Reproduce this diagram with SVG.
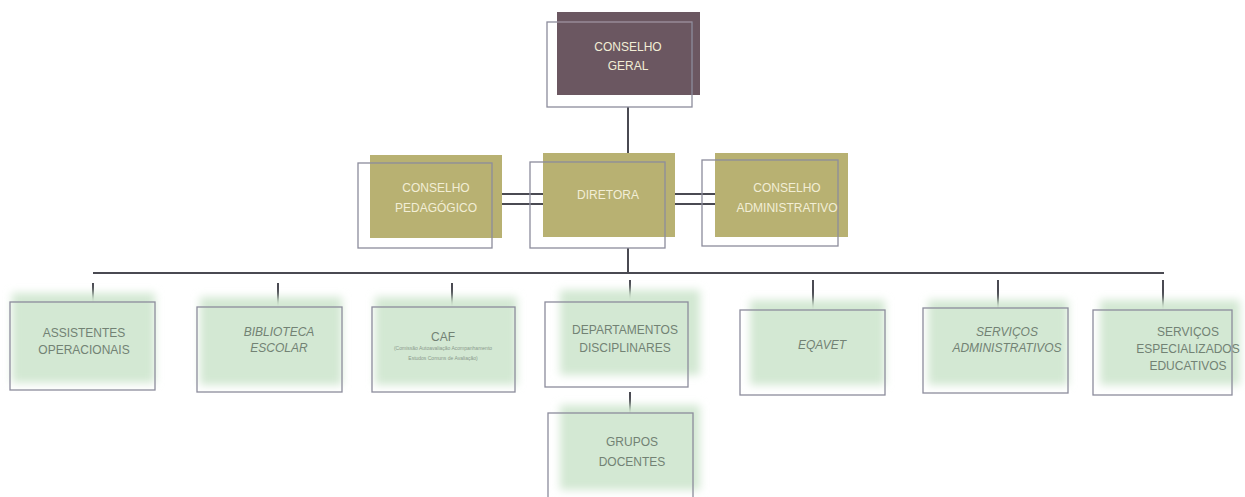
<svg xmlns="http://www.w3.org/2000/svg" width="1245" height="497" viewBox="0 0 1245 497">
<style>
.frame{fill:none;stroke:#8c8c9c;stroke-width:1.3}
.olive{fill:#b8b172}
.glow{fill:#d3e8d3;filter:url(#blur)}
.ln{stroke:#4a4a52;stroke-width:2;fill:none}
.tw{font-family:"Liberation Sans",Arial,sans-serif;font-size:12px;fill:#f2eed6;text-anchor:middle}
.tg{font-family:"Liberation Sans",Arial,sans-serif;font-size:12px;fill:#728274;text-anchor:middle}
.it{font-style:italic}
.small{font-family:"Liberation Sans",Arial,sans-serif;font-size:5px;fill:#8a9a8c;text-anchor:middle}
</style>
<defs>
<filter id="blur" x="-20%" y="-20%" width="140%" height="140%"><feGaussianBlur stdDeviation="4"/></filter>
</defs>
<rect width="1245" height="497" fill="#ffffff"/>
<g id="connectors">
<line class="ln" x1="628" y1="107" x2="628" y2="153"/>
<line class="ln" x1="502" y1="194" x2="543" y2="194"/>
<line class="ln" x1="502" y1="204" x2="543" y2="204"/>
<line class="ln" x1="675" y1="194" x2="715" y2="194"/>
<line class="ln" x1="675" y1="204" x2="715" y2="204"/>
<line class="ln" x1="628" y1="248" x2="628" y2="273"/>
<line class="ln" x1="93" y1="273" x2="1164" y2="273"/>
<line class="ln" x1="93" y1="283" x2="93" y2="302"/>
<line class="ln" x1="278" y1="283" x2="278" y2="307"/>
<line class="ln" x1="452" y1="283" x2="452" y2="307"/>
<line class="ln" x1="630" y1="280" x2="630" y2="302"/>
<line class="ln" x1="813" y1="280" x2="813" y2="310"/>
<line class="ln" x1="998" y1="280" x2="998" y2="308"/>
<line class="ln" x1="1163" y1="280" x2="1163" y2="310"/>
<line class="ln" x1="630" y1="392" x2="630" y2="413"/>
</g>
<g id="conselho-geral">
<rect x="557" y="12" width="143" height="83" fill="#6b5761"/>
<line x1="557" y1="22" x2="692" y2="22" stroke="#b07070" stroke-width="1"/>
<rect class="frame" x="547" y="22" width="145" height="85"/>
<text class="tw" x="628" y="51">CONSELHO</text>
<text class="tw" x="628" y="70">GERAL</text>
</g>
<g id="conselho-pedagogico">
<rect class="olive" x="370" y="155" width="132" height="83"/>
<rect class="frame" x="358" y="163" width="134" height="85"/>
<text class="tw" x="436" y="192">CONSELHO</text>
<text class="tw" x="436" y="212">PEDAGÓGICO</text>
</g>
<g id="diretora">
<rect class="olive" x="543" y="153" width="132" height="84"/>
<rect class="frame" x="530" y="162" width="135" height="86"/>
<text class="tw" x="608" y="199">DIRETORA</text>
</g>
<g id="conselho-administrativo">
<rect class="olive" x="715" y="153" width="133" height="84"/>
<rect class="frame" x="702" y="160" width="136" height="86"/>
<text class="tw" x="787" y="192">CONSELHO</text>
<text class="tw" x="787" y="212">ADMINISTRATIVO</text>
</g>
<g id="assistentes">
<rect class="glow" x="12" y="293" width="143" height="90"/>
<rect class="frame" x="10" y="302" width="145" height="88"/>
<text class="tg" x="84" y="337">ASSISTENTES</text>
<text class="tg" x="84" y="354">OPERACIONAIS</text>
</g>
<g id="biblioteca">
<rect class="glow" x="200" y="297" width="142" height="88"/>
<rect class="frame" x="197" y="307" width="145" height="85"/>
<text class="tg it" x="279" y="336">BIBLIOTECA</text>
<text class="tg it" x="279" y="352">ESCOLAR</text>
</g>
<g id="caf">
<rect class="glow" x="375" y="297" width="142" height="88"/>
<rect class="frame" x="372" y="307" width="143" height="85"/>
<text class="tg" x="443" y="341">CAF</text>
<text class="small" x="443" y="350">(Comissão Autoavaliação Acompanhamento</text>
<text class="small" x="443" y="360">Estudos Comuns de Avaliação)</text>
</g>
<g id="departamentos">
<rect class="glow" x="560" y="290" width="140" height="85"/>
<rect class="frame" x="545" y="302" width="143" height="85"/>
<text class="tg" x="625" y="334">DEPARTAMENTOS</text>
<text class="tg" x="625" y="352">DISCIPLINARES</text>
</g>
<g id="grupos-docentes">
<rect class="glow" x="560" y="405" width="140" height="85"/>
<rect class="frame" x="548" y="413" width="145" height="90"/>
<text class="tg" x="632" y="446">GRUPOS</text>
<text class="tg" x="632" y="466">DOCENTES</text>
</g>
<g id="eqavet">
<rect class="glow" x="750" y="300" width="135" height="85"/>
<rect class="frame" x="740" y="310" width="145" height="85"/>
<text class="tg it" x="822" y="349">EQAVET</text>
</g>
<g id="servicos-administrativos">
<rect class="glow" x="928" y="300" width="140" height="85"/>
<rect class="frame" x="923" y="308" width="145" height="85"/>
<text class="tg it" x="1007" y="336">SERVIÇOS</text>
<text class="tg it" x="1007" y="352">ADMINISTRATIVOS</text>
</g>
<g id="servicos-especializados">
<rect class="glow" x="1100" y="300" width="140" height="85"/>
<rect class="frame" x="1093" y="310" width="139" height="85"/>
<text class="tg" x="1188" y="336">SERVIÇOS</text>
<text class="tg" x="1188" y="353">ESPECIALIZADOS</text>
<text class="tg" x="1188" y="370">EDUCATIVOS</text>
</g>
</svg>
